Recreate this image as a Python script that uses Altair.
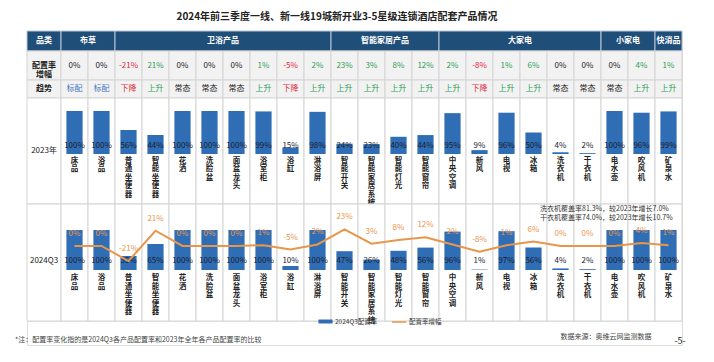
import altair as alt
import pandas as pd

FONT = "Noto Sans CJK SC"

categories = ["床品", "浴品", "普通坐便器", "智能坐便器", "花洒", "洗脸盆", "面盆龙头", "浴室柜",
              "浴缸", "淋浴屏", "智能开关", "智能家居系统", "智能灯光", "智能窗帘", "中央空调",
              "新风", "电视", "冰箱", "洗衣机", "干衣机", "电水壶", "吹风机", "矿泉水"]
group_names = ["布草", "卫浴产品", "智能家居产品", "大家电", "小家电", "快消品"]
group_start = [0, 2, 10, 14, 20, 22]
group_end = [2, 10, 14, 20, 22, 23]
rate_2023 = [100, 100, 56, 44, 100, 100, 100, 99, 15, 98, 24, 23, 40, 44, 95, 9, 96, 50, 4, 2, 100, 96, 99]
rate_2024 = [100, 100, 35, 65, 100, 100, 100, 100, 10, 100, 47, 26, 48, 56, 96, 1, 97, 56, 4, 2, 100, 100, 100]
change = [0, 0, -21, 21, 0, 0, 0, 1, -5, 2, 23, 3, 8, 12, 2, -8, 1, 6, 0, 0, 0, 4, 1]
trend = ["标配", "标配", "下降", "上升", "常态", "常态", "常态", "上升", "下降", "上升", "上升", "上升",
         "上升", "上升", "上升", "下降", "上升", "上升", "常态", "常态", "常态", "上升", "上升"]
row_labels = ["品类", "配置率\n增幅", "趋势", "2023年", "2024Q3"]
title_text = "2024年前三季度一线、新一线19城新开业3-5星级连锁酒店配套产品情况"
note_text = "*注：配置率变化指的是2024Q3各产品配置率和2023年全年各产品配置率的比较"
source_text = "数据来源：奥维云网监测数据"
page_text = "-5-"
annot_lines = ["洗衣机覆盖率81.3%，较2023年增长7.0%", "干衣机覆盖率74.0%，较2023年增长10.7%"]
legend_bar = "2024Q3配置率"
legend_line = "配置率增幅"

BLUE = "#2F6EB5"
ORANGE = "#E9954A"
NAVY = "#1F4E79"
GRID = "#D4D4D4"
GREEN = "#2E9E55"
RED = "#E0283A"

LABEL_W = 34 / 27
xs = alt.Scale(domain=[-LABEL_W, 23], nice=False, zero=False)
W = 655


def sign_color(v):
    return GREEN if v > 0 else (RED if v < 0 else "#222222")


trend_colors = {"标配": "#4A78C8", "上升": GREEN, "下降": RED, "常态": "#222222"}

df = pd.DataFrame({"cat": categories, "i": list(range(len(categories)))})
df["x0"] = df["i"]
df["x1"] = df["i"] + 1
df["xc"] = df["i"] + 0.5
df["bx0"] = df["i"] + 0.2
df["bx1"] = df["i"] + 0.8
df["vert"] = ["\n".join(c) for c in categories]
df["r23"] = rate_2023
df["r24"] = rate_2024
df["chg"] = change
df["trend"] = trend
df["r23_lbl"] = [f"{v}%" for v in rate_2023]
df["r24_lbl"] = [f"{v}%" for v in rate_2024]
df["chg_lbl"] = [f"{v}%" for v in change]
df["chg_col"] = [sign_color(v) for v in change]
df["trend_col"] = [trend_colors[t] for t in trend]
df["series_bar"] = legend_bar
df["series_line"] = legend_line
df["zero"] = 0

lab = pd.DataFrame({"x0": [-LABEL_W], "x1": [0.0], "xc": [-LABEL_W / 2]})

hdr = pd.DataFrame({
    "name": [row_labels[0]] + group_names,
    "x0": [-LABEL_W] + group_start,
    "x1": [0.0] + group_end,
})
hdr["xc"] = (hdr["x0"] + hdr["x1"]) / 2

cells = pd.concat([lab[["x0", "x1"]], df[["x0", "x1"]]], ignore_index=True)


def grid_layer(fill, h):
    return alt.Chart(cells).mark_rect(fill=fill, stroke=GRID, strokeWidth=1).encode(
        x=alt.X("x0:Q", scale=xs, axis=None), x2="x1:Q",
        y=alt.value(0), y2=alt.value(h))


def row_label(text, h, bold=True):
    d = lab.assign(t=[text])
    return alt.Chart(d).mark_text(font=FONT, fontSize=8, fontWeight="bold" if bold else "normal",
                                  color="#222", lineBreak="\n", lineHeight=9).encode(
        x=alt.X("xc:Q", scale=xs, axis=None), y=alt.value(h / 2), text="t:N")


# ---- header
H0 = 20
header = alt.layer(
    alt.Chart(hdr).mark_rect(fill=NAVY, stroke="#B8C7D8", strokeWidth=1).encode(
        x=alt.X("x0:Q", scale=xs, axis=None), x2="x1:Q", y=alt.value(0), y2=alt.value(H0)),
    alt.Chart(hdr).mark_text(font=FONT, fontSize=8, fontWeight="bold", color="white").encode(
        x=alt.X("xc:Q", scale=xs, axis=None), y=alt.value(H0 / 2), text="name:N"),
).properties(width=W, height=H0)

# ---- change row
H1 = 29
row_change = alt.layer(
    grid_layer("#F2F2F2", H1),
    row_label(row_labels[1], H1),
    alt.Chart(df).mark_text(font=FONT, fontSize=8).encode(
        x=alt.X("xc:Q", scale=xs, axis=None), y=alt.value(H1 / 2), text="chg_lbl:N",
        color=alt.Color("chg_col:N", scale=None)),
).properties(width=W, height=H1)

# ---- trend row
H2 = 18
row_trend = alt.layer(
    grid_layer("#F2F2F2", H2),
    row_label(row_labels[2], H2),
    alt.Chart(df).mark_text(font=FONT, fontSize=8).encode(
        x=alt.X("xc:Q", scale=xs, axis=None), y=alt.value(H2 / 2), text="trend:N",
        color=alt.Color("trend_col:N", scale=None)),
).properties(width=W, height=H2)

# ---- 2023 row
H3 = 106
ys23 = alt.Scale(domain=[-116.3, 130.2], nice=False, zero=False)
row_2023 = alt.layer(
    grid_layer("white", H3),
    row_label(row_labels[3], H3 - 1, bold=False),
    alt.Chart(df).mark_rect(color=BLUE).encode(
        x=alt.X("bx0:Q", scale=xs, axis=None), x2="bx1:Q",
        y=alt.Y("r23:Q", scale=ys23, axis=None), y2="zero:Q"),
    alt.Chart(df).mark_text(font=FONT, fontSize=8, color="#1c1c30", dy=-8).encode(
        x=alt.X("xc:Q", scale=xs, axis=None), y=alt.Y("zero:Q", scale=ys23, axis=None),
        text="r23_lbl:N"),
    alt.Chart(df).mark_text(font=FONT, fontSize=7.5, fontWeight="bold", color="#222",
                            baseline="top", lineBreak="\n", lineHeight=8.5, dy=3).encode(
        x=alt.X("xc:Q", scale=xs, axis=None), y=alt.Y("zero:Q", scale=ys23, axis=None),
        text="vert:N"),
).properties(width=W, height=H3)

# ---- 2024 row
H4 = 117
ys24 = alt.Scale(domain=[-127.5, 165], nice=False, zero=False)
ysc = alt.Scale(domain=[-104, 58], nice=False, zero=False)
annot = pd.DataFrame({"t": annot_lines, "x": [18, 18], "k": [0, 1]})
row_2024 = alt.layer(
    grid_layer("white", H4),
    row_label(row_labels[4], H4 - 3, bold=False),
    alt.Chart(df).mark_rect().encode(
        x=alt.X("bx0:Q", scale=xs, axis=None), x2="bx1:Q",
        y=alt.Y("r24:Q", scale=ys24, axis=None), y2="zero:Q",
        fill=alt.Fill("series_bar:N", scale=alt.Scale(domain=[legend_bar], range=[BLUE]),
                      legend=alt.Legend(orient="none", legendX=291, legendY=283, title=None,
                                        symbolType="M-1,-0.28H1V0.28H-1Z", symbolSize=200,
                                        labelFont=FONT, labelFontSize=6.5, labelColor="#333",
                                        labelOffset=2, symbolStrokeWidth=0, padding=0))),
    alt.Chart(df).mark_text(font=FONT, fontSize=8, color="#1c1c30", dy=-9).encode(
        x=alt.X("xc:Q", scale=xs, axis=None), y=alt.Y("zero:Q", scale=ys24, axis=None),
        text="r24_lbl:N"),
    alt.Chart(df).mark_text(font=FONT, fontSize=7.5, fontWeight="bold", color="#222",
                            baseline="top", lineBreak="\n", lineHeight=8.5, dy=4).encode(
        x=alt.X("xc:Q", scale=xs, axis=None), y=alt.Y("zero:Q", scale=ys24, axis=None),
        text="vert:N"),
    alt.Chart(df).mark_line(strokeWidth=2).encode(
        x=alt.X("xc:Q", scale=xs, axis=None),
        y=alt.Y("chg:Q", scale=ysc, axis=None),
        stroke=alt.Stroke("series_line:N", scale=alt.Scale(domain=[legend_line], range=[ORANGE]),
                          legend=alt.Legend(orient="none", legendX=364, legendY=283, title=None,
                                            symbolType="stroke", symbolSize=200, symbolStrokeWidth=1.5,
                                            labelFont=FONT, labelFontSize=6.5, labelColor="#333",
                                            labelOffset=2, padding=0))),
    alt.Chart(df).mark_text(font=FONT, fontSize=8, color=ORANGE, dy=-12).encode(
        x=alt.X("xc:Q", scale=xs, axis=None), y=alt.Y("chg:Q", scale=ysc, axis=None),
        text="chg_lbl:N"),
    alt.Chart(annot).mark_text(font=FONT, fontSize=7, color="#333", align="left", dx=-7).encode(
        x=alt.X("x:Q", scale=xs, axis=None),
        y=alt.Y("k:Q", scale=alt.Scale(domain=[-0.55, 12.5], nice=False, zero=False, reverse=True),
                axis=None),
        text="t:N"),
).resolve_scale(y="independent").properties(width=W, height=H4)

# ---- footer
H5 = 24
foot = pd.DataFrame({
    "t": [note_text, source_text, page_text],
    "x": [-LABEL_W, 18.5, 23.0],
    "k": [1.6, 1.1, 1.7],
    "a": ["n", "s", "p"],
})
ysf = alt.Scale(domain=[-1.6, 2.4], nice=False, zero=False, reverse=True)
footer = alt.layer(
    alt.Chart(foot[foot.a == "n"]).mark_text(font=FONT, fontSize=7, color="#444", align="left", dx=-12).encode(
        x=alt.X("x:Q", scale=xs, axis=None), y=alt.Y("k:Q", scale=ysf, axis=None), text="t:N"),
    alt.Chart(foot[foot.a == "s"]).mark_text(font=FONT, fontSize=7, color="#444", align="left").encode(
        x=alt.X("x:Q", scale=xs, axis=None), y=alt.Y("k:Q", scale=ysf, axis=None), text="t:N"),
    alt.Chart(foot[foot.a == "p"]).mark_text(font=FONT, fontSize=9, color="#222", align="center", dx=-2).encode(
        x=alt.X("x:Q", scale=xs, axis=None), y=alt.Y("k:Q", scale=ysf, axis=None), text="t:N"),
).properties(width=W, height=H5)

chart = alt.vconcat(header, row_change, row_trend, row_2023, row_2024, footer, spacing=0,
                    bounds="flush").properties(
    title=alt.TitleParams(title_text, font=FONT, fontSize=10, fontWeight="bold", color="#222",
                          anchor="start", dx=162, offset=8),
    padding={"left": 6, "top": 4, "right": 4, "bottom": 2},
).configure_view(stroke=None).configure(background="white")

chart.save("out.html", embed_options={"renderer": "svg", "actions": False})
